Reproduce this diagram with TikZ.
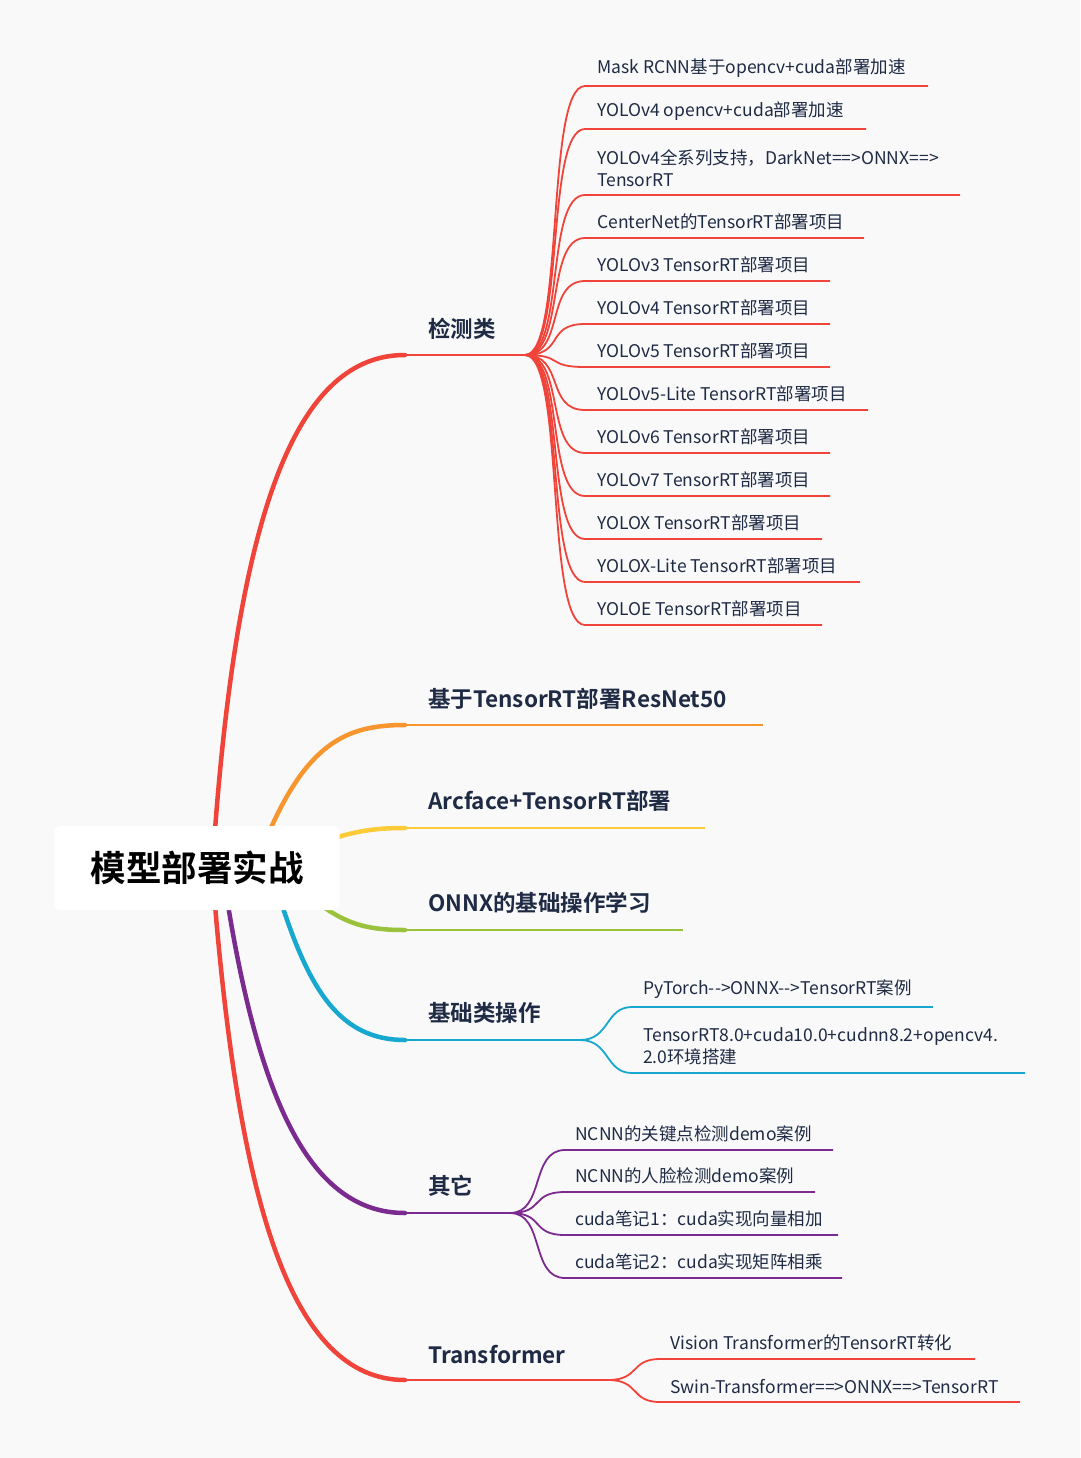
\documentclass[tikz,border=0pt]{standalone}
\usepackage{fontspec}
\setmainfont{Noto Sans CJK SC}
\newfontfamily\cjkb{Noto Sans CJK SC Bold}
\definecolor{cRed}{HTML}{F0433A}
\definecolor{cOra}{HTML}{F7962F}
\definecolor{cYel}{HTML}{FBCB3A}
\definecolor{cGrn}{HTML}{9AC23C}
\definecolor{cBlu}{HTML}{16A8CF}
\definecolor{cPur}{HTML}{7B2A8F}
\definecolor{txt}{HTML}{1F2A44}
\begin{document}
\begin{tikzpicture}[x=1pt,y=-1pt,
  mainline/.style={line width=4.5pt,line cap=round},
  subline/.style={line width=2.2pt},
  leaf/.style={anchor=south west,font=\fontsize{17.5}{22}\selectfont,text=txt,inner sep=0pt,align=left},
  branch/.style={anchor=south west,font=\cjkb\fontsize{22.5}{26}\selectfont,text=txt,inner sep=0pt}]
\fill[color={rgb,255:red,249;green,249;blue,249}] (0,0) rectangle (1080,1458);
\useasboundingbox (0,0) rectangle (1080,1458);
% main branches
\draw[mainline,cRed] (215,830) .. controls (240,500) and (300,355) .. (405,355);
\draw[mainline,cOra] (270,830) .. controls (310,740) and (350,725) .. (405,725);
\draw[mainline,cYel] (335,838) .. controls (360,830) and (380,828) .. (405,828);
\draw[mainline,cGrn] (325,908) .. controls (350,925) and (370,930) .. (405,930);
\draw[mainline,cBlu] (282,905) .. controls (310,990) and (340,1040) .. (405,1040);
\draw[mainline,cPur] (228,905) .. controls (260,1100) and (310,1213) .. (405,1213);
\draw[mainline,cRed] (215,905) .. controls (240,1200) and (290,1380) .. (405,1380);
% central node
\node[fill=white,rounded corners=6pt,minimum width=285pt,minimum height=84pt,inner sep=0pt,
  font=\cjkb\fontsize{35.5}{40}\selectfont,text=black] (root) at (197,868) {模型部署实战};
% branch underlines and labels
\draw[subline,cRed] (405,355) coordinate (d0) -- (525,355) coordinate (d1);
\node[branch] (det) at (428,340) {检测类};
\draw[subline,cOra] (405,725) -- (763,725);
\node[branch] (res) at (428,710) {基于TensorRT部署ResNet50};
\draw[subline,cYel] (405,828) -- (705,828);
\node[branch] (arc) at (428,812) {Arcface+TensorRT部署};
\draw[subline,cGrn] (405,930) -- (683,930);
\node[branch] (onnx) at (428,914) {ONNX的基础操作学习};
\draw[subline,cBlu] (405,1040) -- (580,1040) coordinate (b1);
\node[branch] (base) at (428,1024) {基础类操作};
\draw[subline,cPur] (405,1213) -- (510,1213) coordinate (p1);
\node[branch] (oth) at (428,1197) {其它};
\draw[subline,cRed] (405,1380) -- (608,1380) coordinate (t1);
\node[branch] (trf) at (428,1364) {Transformer};
% detection leaves
\foreach \y/\xe/\t [count=\i] in {
 86/928/{Mask RCNN基于opencv+cuda部署加速},
 129/866/{YOLOv4 opencv+cuda部署加速},
 195/960/{YOLOv4全系列支持，DarkNet==>ONNX==>\\TensorRT},
 238/864/{CenterNet的TensorRT部署项目},
 281/830/{YOLOv3 TensorRT部署项目},
 324/830/{YOLOv4 TensorRT部署项目},
 367/830/{YOLOv5 TensorRT部署项目},
 410/868/{YOLOv5-Lite TensorRT部署项目},
 453/830/{YOLOv6 TensorRT部署项目},
 496/830/{YOLOv7 TensorRT部署项目},
 539/822/{YOLOX TensorRT部署项目},
 582/860/{YOLOX-Lite TensorRT部署项目},
 625/822/{YOLOE TensorRT部署项目}}{
 \draw[line width=1.8pt,cRed] (d1) .. controls (565,355) and (545,\y) .. (585,\y) -- (\xe,\y);
 \node[leaf] (det\i) at (597,\y-8) {\t};
}
% basic leaves
\foreach \y/\xe/\t [count=\i] in {
 1007/933/{PyTorch-{}-{}>ONNX-{}-{}>TensorRT案例},
 1073/1025/{TensorRT8.0+cuda10.0+cudnn8.2+opencv4.\\2.0环境搭建}}{
 \draw[line width=1.8pt,cBlu] (b1) .. controls (610,1040) and (605,\y) .. (632,\y) -- (\xe,\y);
 \node[leaf] (bas\i) at (643,\y-8) {\t};
}
% other leaves
\foreach \y/\xe/\t [count=\i] in {
 1150/833/{NCNN的关键点检测demo案例},
 1192/815/{NCNN的人脸检测demo案例},
 1235/838/{cuda笔记1：cuda实现向量相加},
 1278/842/{cuda笔记2：cuda实现矩阵相乘}}{
 \draw[line width=1.8pt,cPur] (p1) .. controls (545,1213) and (530,\y) .. (565,\y) -- (\xe,\y);
 \node[leaf] (oth\i) at (575,\y-8) {\t};
}
% transformer leaves
\foreach \y/\xe/\t [count=\i] in {
 1359/975/{Vision Transformer的TensorRT转化},
 1402/1020/{Swin-Transformer==>ONNX==>TensorRT}}{
 \draw[line width=1.8pt,cRed] (t1) .. controls (640,1380) and (630,\y) .. (660,\y) -- (\xe,\y);
 \node[leaf] (trf\i) at (670,\y-8) {\t};
}
\end{tikzpicture}
\end{document}
